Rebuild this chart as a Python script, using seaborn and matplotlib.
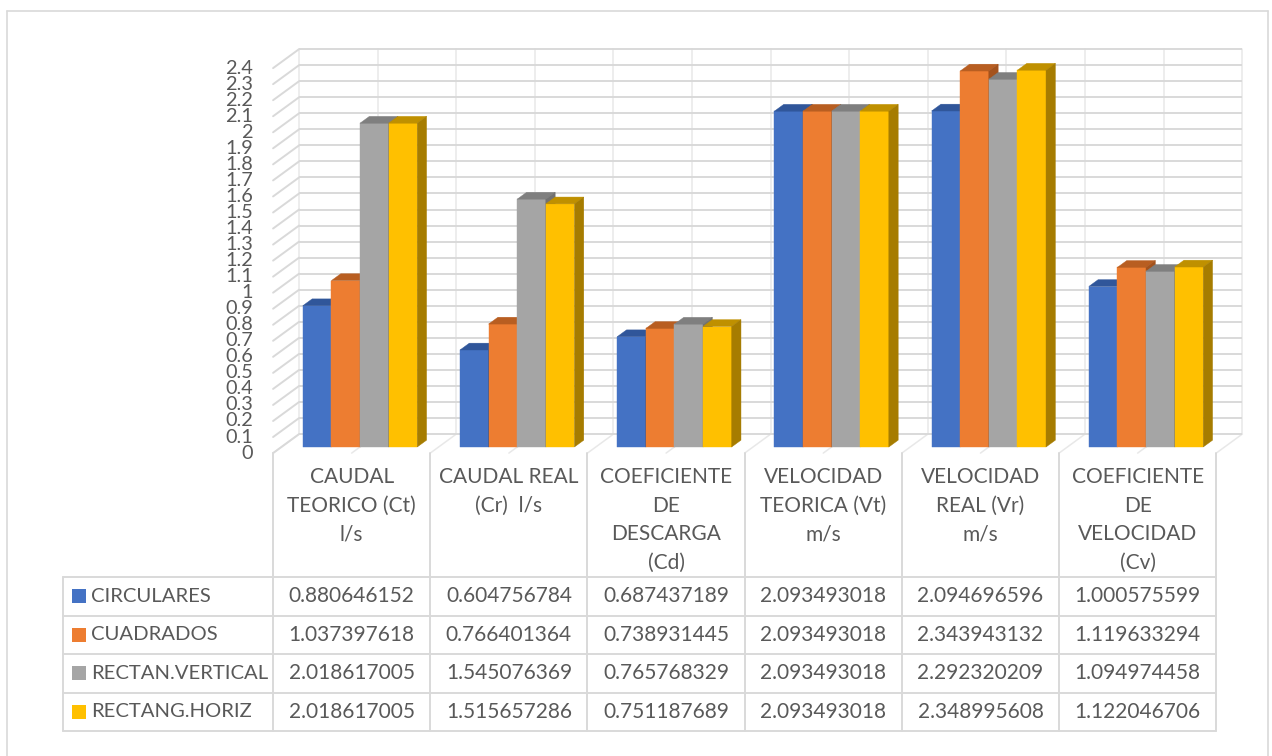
import numpy as np
import pandas as pd
import matplotlib
matplotlib.use("Agg")
import matplotlib.pyplot as plt
import seaborn as sns
from matplotlib.patches import Polygon, Rectangle
from matplotlib.lines import Line2D

# ---- data -------------------------------------------------------------
categories = [
    "CAUDAL\nTEORICO (Ct)\nl/s",
    "CAUDAL REAL\n(Cr)  l/s",
    "COEFICIENTE\nDE\nDESCARGA\n(Cd)",
    "VELOCIDAD\nTEORICA (Vt)\nm/s",
    "VELOCIDAD\nREAL (Vr)\nm/s",
    "COEFICIENTE\nDE\nVELOCIDAD\n(Cv)",
]
series = ["CIRCULARES", "CUADRADOS", "RECTAN.VERTICAL", "RECTANG.HORIZ"]

circulares = [0.880646152, 0.604756784, 0.687437189, 2.093493018, 2.094696596, 1.000575599]
cuadrados = [1.037397618, 0.766401364, 0.738931445, 2.093493018, 2.343943132, 1.119633294]
rectan_vertical = [2.018617005, 1.545076369, 0.765768329, 2.093493018, 2.292320209, 1.094974458]
rectang_horiz = [2.018617005, 1.515657286, 0.751187689, 2.093493018, 2.348995608, 1.122046706]

y_ticks = [0, 0.1, 0.2, 0.3, 0.4, 0.5, 0.6, 0.7, 0.8, 0.9, 1, 1.1, 1.2,
           1.3, 1.4, 1.5, 1.6, 1.7, 1.8, 1.9, 2, 2.1, 2.2, 2.3, 2.4]

values = [circulares, cuadrados, rectan_vertical, rectang_horiz]

# ---- style ------------------------------------------------------------
front_colors = ["#4472C4", "#ED7D31", "#A5A5A5", "#FFC000"]
top_colors = ["#30569A", "#B85E21", "#7F7F7F", "#BF9000"]
side_colors = ["#2A4C87", "#A4521C", "#717171", "#A67C00"]
TXT = "#595959"
GRID = "#D9D9D9"
GRID_LIGHT = "#E8E8E8"

sns.set_theme(style="white")
plt.rcParams["font.family"] = ["Lato", "DejaVu Sans"]

W, H = 1272, 756
fig = plt.figure(figsize=(W / 100, H / 100), dpi=100)
ax = fig.add_axes([0, 0, 1, 1])

# pixel layout of the bar front plane
X0, SX = 360.0, 157.2   # pixel x of first category centre, pixels per category
Y0, SY = 447.0, 160.4   # pixel y of value 0, pixels per unit


def px(x_pix, y_pix):
    return (x_pix - X0) / SX, (Y0 - y_pix) / SY


# oblique depth vector (full depth of the plot box) in data units
DX, DY = 26.0 / SX, 19.0 / SY
fdx, fdy = -0.32 * DX, -0.32 * DY   # front edge of the box
bdx, bdy = 0.68 * DX, 0.68 * DY     # back wall
tdx, tdy = 0.36 * DX, 0.36 * DY     # depth of each column

df = pd.DataFrame({
    "categoria": np.tile(categories, len(series)),
    "serie": np.repeat(series, len(categories)),
    "valor": np.concatenate(values),
})

sns.barplot(data=df, x="categoria", y="valor", hue="serie",
            order=categories, hue_order=series, palette=front_colors,
            width=0.728, saturation=1, linewidth=0, errorbar=None,
            legend=False, ax=ax)

ax.set_xlim(-X0 / SX, (W - X0) / SX)
ax.set_ylim((Y0 - H) / SY, Y0 / SY)
ax.set_axis_off()

n = len(categories)
ymax = y_ticks[-1]

# back wall, side wall and floor grid
for v in y_ticks:
    ax.add_line(Line2D([-0.5 + bdx, n - 0.5 + bdx], [v + bdy, v + bdy],
                       color=GRID, lw=1.4, zorder=1, solid_capstyle="butt"))
    ax.add_line(Line2D([-0.5 + fdx, -0.5 + bdx], [v + fdy, v + bdy],
                       color=GRID, lw=1.4, zorder=1))
for k in range(2 * n + 1):
    xb = -0.5 + 0.5 * k
    ax.add_line(Line2D([xb + bdx, xb + bdx], [bdy, ymax + bdy],
                       color=GRID_LIGHT, lw=1.1, zorder=0.9))
    ax.add_line(Line2D([xb + fdx, xb + bdx], [fdy, bdy],
                       color=GRID_LIGHT, lw=1.1, zorder=0.9))

# value axis labels
lab_x = -0.5 + fdx - 20.0 / SX
for v in y_ticks:
    ax.text(lab_x, v + fdy, f"{v:g}", ha="right", va="center",
            fontsize=14.3, color=TXT)

# 3D faces for each column
for j, cont in enumerate(ax.containers):
    for rect in cont:
        x0, w, h = rect.get_x(), rect.get_width(), rect.get_height()
        rect.set_zorder(3 + 0.1 * j)
        rect.set_edgecolor(front_colors[j])
        rect.set_linewidth(0.3)
        top = Polygon([(x0, h), (x0 + w, h), (x0 + w + tdx, h + tdy),
                       (x0 + tdx, h + tdy)], closed=True,
                      facecolor=top_colors[j], edgecolor=top_colors[j],
                      lw=0.3, zorder=3 + 0.1 * j + 0.05)
        side = Polygon([(x0 + w, 0), (x0 + w + tdx, tdy),
                        (x0 + w + tdx, h + tdy), (x0 + w, h)], closed=True,
                       facecolor=side_colors[j], edgecolor=side_colors[j],
                       lw=0.3, zorder=3 + 0.1 * j + 0.05)
        ax.add_patch(top)
        ax.add_patch(side)

# data table
row_edges = [px(0, p)[1] for p in (577, 615.5, 654, 692.5, 731)]
left_x = px(63, 0)[0]
col_edges = [k - 0.5 + fdx for k in range(n + 1)]
tab_kw = dict(color=GRID, lw=1.4, zorder=2, clip_on=False)

for xe in col_edges:
    ax.add_line(Line2D([xe, xe], [fdy, row_edges[-1]], **tab_kw))
ax.add_line(Line2D([left_x, left_x], [row_edges[0], row_edges[-1]], **tab_kw))
for ye in row_edges:
    ax.add_line(Line2D([left_x, col_edges[-1]], [ye, ye], **tab_kw))

# category headers
for k, cat in enumerate(categories):
    for i, line in enumerate(cat.split("\n")):
        ax.text(k + fdx, px(0, 477 + 28.7 * i)[1], line, ha="center",
                va="center", fontsize=15, color=TXT)

# series rows with legend keys
key_w, key_h = 14.0 / SX, 14.0 / SY
for r, (name, vals) in enumerate(zip(series, values)):
    yc = 0.5 * (row_edges[r] + row_edges[r + 1])
    ax.add_patch(Rectangle((px(72, 0)[0], yc - key_h / 2), key_w, key_h,
                           facecolor=front_colors[r], edgecolor="none",
                           zorder=3))
    ax.text(px(91, 0)[0], yc, name, ha="left", va="center",
            fontsize=14.6, color=TXT)
    for k, v in enumerate(vals):
        ax.text(k + fdx, yc, f"{v:.9f}", ha="center", va="center",
                fontsize=15, color=TXT)

# chart area border
for xs, ys in (([7, 7], [11, 760]), ([7, 1268], [11, 11]), ([1268, 1268], [11, 760])):
    fig.add_artist(Line2D([x / W for x in xs], [1 - y / H for y in ys],
                          transform=fig.transFigure, color=GRID, lw=1.2))

fig.savefig("out.png", dpi=100, facecolor="white")
